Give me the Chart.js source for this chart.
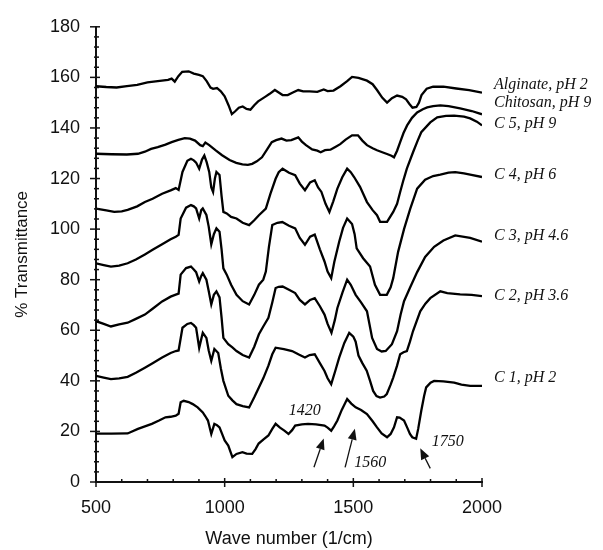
<!DOCTYPE html>
<html>
<head>
<meta charset="utf-8">
<script src="https://cdn.jsdelivr.net/npm/chart.js@4.4.1/dist/chart.umd.min.js"></script>
<style>
  body { margin: 0; background: #fff; }
  canvas { display: block; }
</style>
</head>
<body>
<canvas id="ftir" width="603" height="550"></canvas>
<script>
// wave number (1/cm), % transmittance
const alginate = [[500,156.5],[540,156.2],[580,156],[620,156.5],[660,157],[700,158],[740,158.5],[780,159],[794,159.5],[806,158.3],[820,160.5],[835,162.2],[860,162.4],[880,161.5],[900,161],[915,160.5],[930,158.5],[945,156],[955,155.5],[970,155.8],[985,154.5],[1000,152.5],[1015,149],[1028,145.5],[1040,146.5],[1055,148],[1070,148.5],[1085,147.5],[1100,147.2],[1115,149],[1130,150.5],[1145,151.5],[1160,152.5],[1175,153.5],[1195,155],[1210,154],[1225,153],[1245,153],[1265,154],[1286,155],[1305,154.5],[1330,154.5],[1360,154.3],[1385,155.2],[1400,154.6],[1423,154.8],[1450,156.5],[1476,158.5],[1495,160.2],[1520,159.8],[1553,158.7],[1575,157.3],[1592,155],[1612,152],[1631,150],[1650,151.8],[1670,152.8],[1690,152.3],[1705,151.3],[1718,149.5],[1730,148],[1745,148.3],[1755,150],[1765,153],[1785,155.5],[1810,156.3],[1850,156.3],[1900,155.6],[1950,155],[2000,154]];
const chitosan = [[500,129.8],[560,129.6],[620,129.5],[663,129.8],[690,130.6],[714,131.7],[740,132.4],[770,133.4],[794,134.4],[820,135.3],[845,136],[865,135.8],[885,135],[905,133.2],[915,132.8],[925,134.2],[940,133.2],[964,131.2],[990,129.2],[1019,127.3],[1045,126.2],[1069,125.6],[1090,125.4],[1107,125.8],[1125,126.8],[1145,128.4],[1165,131.5],[1183,134.4],[1200,135.2],[1221,135.8],[1240,135],[1259,135.2],[1286,136.3],[1300,134.6],[1316,133.2],[1340,131.5],[1360,131],[1373,130.4],[1390,131.2],[1411,131.4],[1430,132.5],[1449,133.6],[1470,135.4],[1495,137.1],[1518,137.1],[1535,135],[1553,133.2],[1575,132],[1592,131.2],[1615,130.3],[1631,129.7],[1648,129],[1658,128.4],[1670,131],[1682,134.4],[1695,138],[1709,141],[1728,144],[1748,146.1],[1770,147.4],[1787,148.1],[1810,148.6],[1838,148.9],[1870,148.6],[1915,147.7],[1960,146.7],[2000,145.4]];
const c5 = [[500,108.1],[540,107.4],[571,106.8],[600,107],[623,107.6],[660,109],[690,110.7],[720,112],[757,114],[790,115.3],[810,116.2],[821,115.5],[836,122.6],[855,127],[869,127.8],[880,127.2],[889,126.3],[901,123.9],[912,127.5],[921,129.1],[930,126.5],[940,122.6],[948,116.5],[955,114.7],[962,120],[968,122.6],[980,121.4],[988,113],[995,106.8],[1008,106.2],[1025,104.8],[1046,104.2],[1070,102.5],[1095,101.6],[1115,103.5],[1133,105.5],[1160,108.1],[1178,114],[1198,119.9],[1210,122.5],[1225,123.9],[1250,122.3],[1274,121.3],[1292,118],[1312,115.4],[1332,118.5],[1350,119.3],[1363,116.5],[1376,114.7],[1392,110],[1407,106.8],[1422,111],[1438,116],[1457,120.5],[1476,123.9],[1490,122.5],[1503,120.6],[1526,116.7],[1553,110.7],[1575,107.5],[1592,105.5],[1604,102.9],[1631,102.9],[1655,106.8],[1670,110],[1682,114.7],[1695,119.5],[1708,123.9],[1732,130.4],[1750,135],[1764,138.3],[1799,142.2],[1826,144.2],[1860,144.8],[1892,144.9],[1930,144.5],[1954,143.8],[1980,142.5],[2000,141]];
const c4 = [[500,86.5],[530,85.8],[558,85.2],[590,85.6],[623,86.5],[655,88],[690,90],[720,91.8],[757,94],[790,96],[810,97],[821,97.7],[829,104.2],[850,108.5],[869,109.5],[880,109],[889,108.2],[901,104.2],[909,107.5],[915,108.2],[929,105.6],[938,101],[948,94],[958,98],[968,100.3],[980,99],[988,92],[995,84.5],[1008,82],[1025,78],[1046,74],[1070,71.5],[1095,70.2],[1115,74],[1133,78],[1150,80],[1160,83.2],[1172,93],[1185,101.6],[1205,102.5],[1224,102.8],[1250,101.3],[1274,100.3],[1292,96.5],[1312,93.8],[1332,97],[1350,97.8],[1370,92],[1388,87.2],[1400,83.2],[1414,80.6],[1426,87],[1445,95],[1460,100.5],[1476,104.2],[1495,102],[1505,98],[1513,92.4],[1538,88.5],[1565,85.2],[1584,78],[1604,74],[1630,74],[1645,77],[1655,80.6],[1674,91],[1697,100],[1721,108],[1748,116],[1779,119.5],[1810,121],[1838,121.5],[1870,122.3],[1896,122.5],[1930,122],[1954,121.5],[2000,120.6]];
const c3 = [[500,63.6],[530,62.5],[558,61.5],[590,62.3],[623,63],[655,64.5],[690,66.2],[720,68.5],[757,71.4],[790,73.3],[810,74.1],[821,74.5],[829,82],[850,84.6],[869,85.2],[880,84],[889,83],[901,79.3],[909,81.5],[915,82.6],[929,80],[938,75.5],[948,70.2],[958,74],[968,75.4],[980,73],[988,65],[995,57],[1014,54.5],[1030,53.2],[1046,51.8],[1070,50.2],[1095,49.2],[1115,53.5],[1133,58.4],[1150,61.5],[1170,64.9],[1185,71],[1198,76.7],[1210,77.2],[1225,77.3],[1250,76],[1274,74.7],[1292,72],[1312,70.2],[1332,72],[1350,72.7],[1370,69.5],[1388,66.2],[1400,62.5],[1415,59],[1428,64],[1438,68.8],[1458,75],[1476,80],[1490,78],[1509,74],[1530,71],[1553,67.5],[1573,57],[1592,52.6],[1610,51.6],[1626,51.8],[1650,54.5],[1670,59.6],[1684,66.3],[1697,71.5],[1721,77],[1748,83],[1779,89],[1814,93],[1850,95.5],[1896,97.5],[1954,96.5],[2000,95]];
const c2 = [[500,42],[530,41.3],[558,40.7],[590,41],[623,41.6],[655,43.2],[690,45.2],[720,47],[757,49.2],[790,51],[810,51.8],[821,52],[836,61],[855,62.5],[869,62.9],[880,62],[889,61],[901,53],[909,56.5],[915,59],[929,57],[938,52],[948,47.9],[960,52.6],[975,51],[985,45],[995,40],[1014,34.1],[1030,32.3],[1046,30.8],[1070,30],[1095,29.5],[1115,33.5],[1133,37.4],[1150,41],[1170,46],[1185,50.5],[1198,53.1],[1230,52.5],[1262,51.8],[1290,50.3],[1312,49.2],[1330,50.2],[1350,50.5],[1370,47],[1388,43.9],[1400,41],[1414,38.7],[1430,44],[1445,49.2],[1465,55],[1484,59],[1500,57.5],[1509,55.5],[1520,50],[1535,47],[1552,44],[1565,40],[1577,36],[1590,34],[1604,33.4],[1620,33.8],[1630,34.8],[1645,38.5],[1655,41.3],[1670,46],[1682,50.5],[1695,51.3],[1708,51.8],[1720,55.5],[1732,59.7],[1760,67.5],[1780,70.5],[1799,72.7],[1838,75.4],[1865,74.7],[1915,74.2],[1960,74],[2000,73.5]];
const c1 = [[500,19.1],[560,19.1],[623,19.2],[663,21],[690,22],[717,23],[745,24.3],[770,25.6],[790,25.8],[810,26.2],[821,27],[829,31.5],[841,32.1],[860,31.6],[876,30.8],[895,29.5],[915,27.5],[925,26],[935,24.3],[948,19],[960,23],[970,22.5],[980,21.6],[990,19],[1000,16.4],[1014,14.4],[1030,9.8],[1046,11.1],[1069,11.8],[1085,11.2],[1107,11.1],[1120,13],[1132,15.2],[1150,16.8],[1170,18.4],[1185,21],[1198,23],[1215,21.5],[1232,20.3],[1248,19],[1262,20.5],[1274,22.3],[1300,22.8],[1324,23],[1355,22.8],[1388,22.3],[1400,21.5],[1414,20.3],[1425,22],[1438,24.3],[1455,28.5],[1476,32.8],[1492,31],[1509,29.5],[1530,28.5],[1553,26.9],[1575,24],[1592,21.6],[1610,19.2],[1631,17.7],[1645,19],[1658,21.6],[1670,25.6],[1680,25.5],[1697,24.3],[1709,21.6],[1720,19],[1729,17.7],[1744,17.1],[1752,21],[1764,28.2],[1775,34],[1783,37.4],[1800,39.3],[1814,40],[1850,39.8],[1892,39.3],[1920,38.5],[1954,38],[2000,38]];

const series = [alginate, chitosan, c5, c4, c3, c2, c1];
const seriesNames = ["Alginate, pH 2", "Chitosan, pH 9", "C 5, pH 9", "C 4, pH 6", "C 3, pH 4.6", "C 2, pH 3.6", "C 1, pH 2"];
const xTicks = [500, 1000, 1500, 2000];
const yTicks = [0, 20, 40, 60, 80, 100, 120, 140, 160, 180];

// onde ficam os nomes a direita (valor de transmitancia do centro do texto)
const nameAt = [157.2, 150, 141.5, 121.4, 97.5, 73.6, 41.3];
// setas das bandas: texto, posicao do texto, cauda e ponta da seta
const bandNotes = [
  { text: "1420", tx: 1311, ty: 28.2, from: [1347, 5.8], to: [1385, 17.2] },
  { text: "1560", tx: 1566, ty: 7.4, from: [1468, 5.8], to: [1506, 21.1] },
  { text: "1750", tx: 1867, ty: 15.8, from: [1799, 5.4], to: [1760, 13.3] }
];

const ink = "#111";

function arrow(ctx, x0, y0, x1, y1) {
  const ang = Math.atan2(y1 - y0, x1 - x0);
  const len = 11, half = 4.5;
  const bx = x1 - len * Math.cos(ang), by = y1 - len * Math.sin(ang);
  ctx.beginPath();
  ctx.moveTo(x0, y0);
  ctx.lineTo(bx, by);
  ctx.stroke();
  ctx.beginPath();
  ctx.moveTo(x1, y1);
  ctx.lineTo(bx + half * Math.sin(ang), by - half * Math.cos(ang));
  ctx.lineTo(bx - half * Math.sin(ang), by + half * Math.cos(ang));
  ctx.closePath();
  ctx.fill();
}

const extras = {
  id: "extras",
  afterDraw(chart) {
    const { ctx, scales: { x, y } } = chart;
    ctx.save();
    ctx.strokeStyle = ink;
    ctx.fillStyle = ink;
    ctx.lineWidth = 1.5;

    // marcas do eixo y (maiores a cada 20, menores a cada 4)
    for (let v = 0; v <= 180; v += 4) {
      const py = y.getPixelForValue(v);
      const major = v % 20 === 0;
      ctx.beginPath();
      ctx.moveTo(x.left - (major ? 6 : 2), py);
      ctx.lineTo(x.left + (major ? 4 : 3), py);
      ctx.stroke();
    }
    // marcas do eixo x (maiores a cada 500, menores a cada 100)
    for (let v = 500; v <= 2000; v += 100) {
      const px = x.getPixelForValue(v);
      const major = v % 500 === 0;
      ctx.beginPath();
      ctx.moveTo(px, y.bottom + (major ? 5 : 1));
      ctx.lineTo(px, y.bottom - (major ? 4 : 3));
      ctx.stroke();
    }

    ctx.font = "italic 16px 'Liberation Serif'";
    ctx.textBaseline = "middle";
    ctx.textAlign = "left";
    seriesNames.forEach((name, i) => {
      ctx.fillText(name, x.right + 12, y.getPixelForValue(nameAt[i]));
    });

    ctx.textAlign = "center";
    ctx.lineWidth = 1.3;
    bandNotes.forEach(n => {
      ctx.fillText(n.text, x.getPixelForValue(n.tx), y.getPixelForValue(n.ty));
      arrow(ctx,
        x.getPixelForValue(n.from[0]), y.getPixelForValue(n.from[1]),
        x.getPixelForValue(n.to[0]), y.getPixelForValue(n.to[1]));
    });
    ctx.restore();
  }
};

const tickFont = { family: "Liberation Sans", size: 18 };

new Chart(document.getElementById("ftir"), {
  type: "line",
  data: {
    datasets: series.map((s, i) => ({
      label: seriesNames[i],
      data: s.map(([wn, t]) => ({ x: wn, y: t })),
      borderColor: "#000",
      borderWidth: 2.3,
      pointRadius: 0,
      tension: 0,
      fill: false
    }))
  },
  options: {
    responsive: false,
    animation: false,
    layout: { padding: { top: 24, right: 121, left: 0, bottom: 0 } },
    plugins: { legend: { display: false }, tooltip: { enabled: false } },
    scales: {
      x: {
        type: "linear",
        min: 500,
        max: 2000,
        afterFit: s => { s.height = 68; },
        afterBuildTicks: s => { s.ticks = xTicks.map(v => ({ value: v })); },
        grid: { display: false, drawTicks: false },
        border: { display: true, color: ink, width: 2 },
        ticks: { padding: 15, color: ink, font: tickFont, callback: v => String(v) },
        title: {
          display: true,
          text: "Wave number (1/cm)",
          color: ink,
          font: { family: "Liberation Sans", size: 18 },
          padding: { top: 0, bottom: 0 }
        }
      },
      y: {
        min: 0,
        max: 180,
        afterFit: s => { s.width = 96; },
        afterBuildTicks: s => { s.ticks = yTicks.map(v => ({ value: v })); },
        grid: { display: false, drawTicks: false },
        border: { display: true, color: ink, width: 2 },
        ticks: { padding: 16, color: ink, font: tickFont, callback: v => String(v) },
        title: {
          display: true,
          text: "% Transmittance",
          color: ink,
          font: { family: "Liberation Sans", size: 17 },
          padding: { top: 12, bottom: 0 }
        }
      }
    }
  },
  plugins: [extras]
});
</script>
</body>
</html>
